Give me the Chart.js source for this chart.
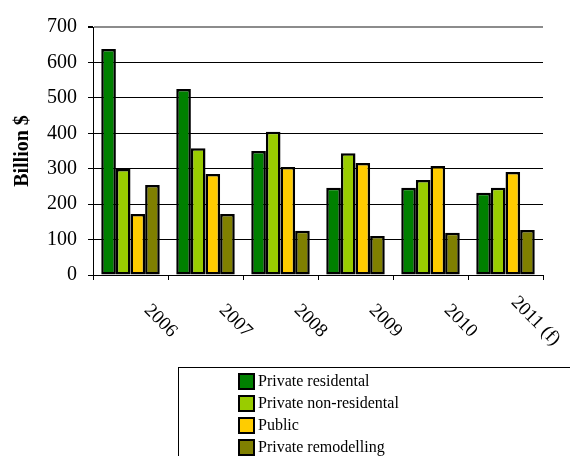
<!DOCTYPE html>
<html>
<head>
<meta charset="utf-8">
<script src="https://cdn.jsdelivr.net/npm/chart.js@4"></script>
<style>
    body { margin: 0; background: #ffffff; overflow: hidden; }
    #wrap { position: relative; width: 570px; height: 456px; overflow: hidden; }
    #wrap canvas { position: absolute; left: 0; top: 0; }
    #legend {
        position: absolute; left: 178px; top: 367px; width: 420px; height: 120px;
        border: 1px solid #000; box-sizing: border-box;
        font-family: 'Liberation Serif', serif; font-size: 16px; color: #000;
        padding: 2px 0 0 59px;
    }
    .item { height: 22px; display: flex; align-items: center; }
    .sw { width: 13px; height: 13px; border: 2px solid #000; margin-right: 3px; }
</style>
</head>
<body>
<div id="wrap">
    <canvas id="buildChart" width="570" height="456"></canvas>
    <div id="legend"></div>
</div>
<script>
const years = ['2006', '2007', '2008', '2009', '2010', '2011 (f)'];
const seriesNames = ['Private residental', 'Private non-residental', 'Public', 'Private remodelling'];
const seriesColors = ['#008000', '#99cc00', '#ffcc00', '#808000'];

const privateResidental = [638, 525, 350, 246, 246, 232];
const privateNonResidental = [299, 358, 404, 344, 268, 246];
const publicSpend = [172, 285, 305, 316, 308, 291];
const privateRemodelling = [254, 172, 125, 110, 119, 127];

const yTicks = [0, 100, 200, 300, 400, 500, 600, 700];

const seriesValues = [privateResidental, privateNonResidental, publicSpend, privateRemodelling];

const ctx = document.getElementById('buildChart').getContext('2d');

// rotated year labels under each group
const yearLabels = {
    id: 'yearLabels',
    afterDraw(chart) {
        const { ctx } = chart;
        const xScale = chart.scales.x;
        ctx.save();
        ctx.font = '19px "Liberation Serif", serif';
        ctx.fillStyle = '#000';
        ctx.textAlign = 'center';
        ctx.textBaseline = 'middle';
        years.forEach((label, i) => {
            const x = xScale.getPixelForValue(i) + 30;
            const y = xScale.top + 46;
            ctx.save();
            ctx.translate(x, y);
            ctx.rotate(Math.PI / 4);
            ctx.fillText(label, 0, 0);
            ctx.restore();
        });
        ctx.restore();
    }
};

new Chart(ctx, {
    type: 'bar',
    data: {
        labels: years,
        datasets: seriesNames.map((name, i) => ({
            label: name,
            data: seriesValues[i],
            backgroundColor: seriesColors[i],
            borderColor: '#000000',
            borderWidth: 2.5,
            borderSkipped: false,
            barPercentage: 1.0,
            categoryPercentage: 0.78
        }))
    },
    plugins: [yearLabels],
    options: {
        responsive: false,
        animation: false,
        layout: {
            padding: { left: 0, top: 27, right: 27, bottom: 0 }
        },
        plugins: {
            legend: { display: false },
            tooltip: { enabled: false }
        },
        scales: {
            x: {
                afterFit: (scale) => { scale.height = 181; },
                grid: {
                    offset: true,
                    color: (c) => c.index === years.length ? '#8c8c8c' : 'rgba(0,0,0,0)',
                    lineWidth: (c) => c.index === years.length ? 2 : 1,
                    tickColor: '#000000',
                    tickLength: 5
                },
                border: { color: '#000000', width: 1 },
                ticks: { display: false }
            },
            y: {
                min: 0,
                max: 700,
                afterFit: (scale) => { scale.width = 93; },
                afterBuildTicks: (scale) => {
                    scale.ticks = yTicks.map(v => ({ value: v }));
                },
                grid: {
                    color: (c) => c.tick && c.tick.value === 700 ? '#8c8c8c' : '#000000',
                    lineWidth: (c) => c.tick && c.tick.value === 700 ? 2 : 1,
                    tickColor: '#000000',
                    tickLength: 5
                },
                border: { color: '#000000', width: 1 },
                ticks: {
                    color: '#000000',
                    padding: 11,
                    font: { family: '"Liberation Serif", serif', size: 20 }
                },
                title: {
                    display: true,
                    text: 'Billion $',
                    color: '#000000',
                    padding: { top: 11, bottom: 0 },
                    font: { family: '"Liberation Serif", serif', size: 20, weight: 'bold' }
                }
            }
        }
    }
});

// legend box below the chart
const legendBox = document.getElementById('legend');
seriesNames.forEach((name, i) => {
    const row = document.createElement('div');
    row.className = 'item';
    const sw = document.createElement('span');
    sw.className = 'sw';
    sw.style.background = seriesColors[i];
    const txt = document.createElement('span');
    txt.textContent = name;
    row.appendChild(sw);
    row.appendChild(txt);
    legendBox.appendChild(row);
});
</script>
</body>
</html>
